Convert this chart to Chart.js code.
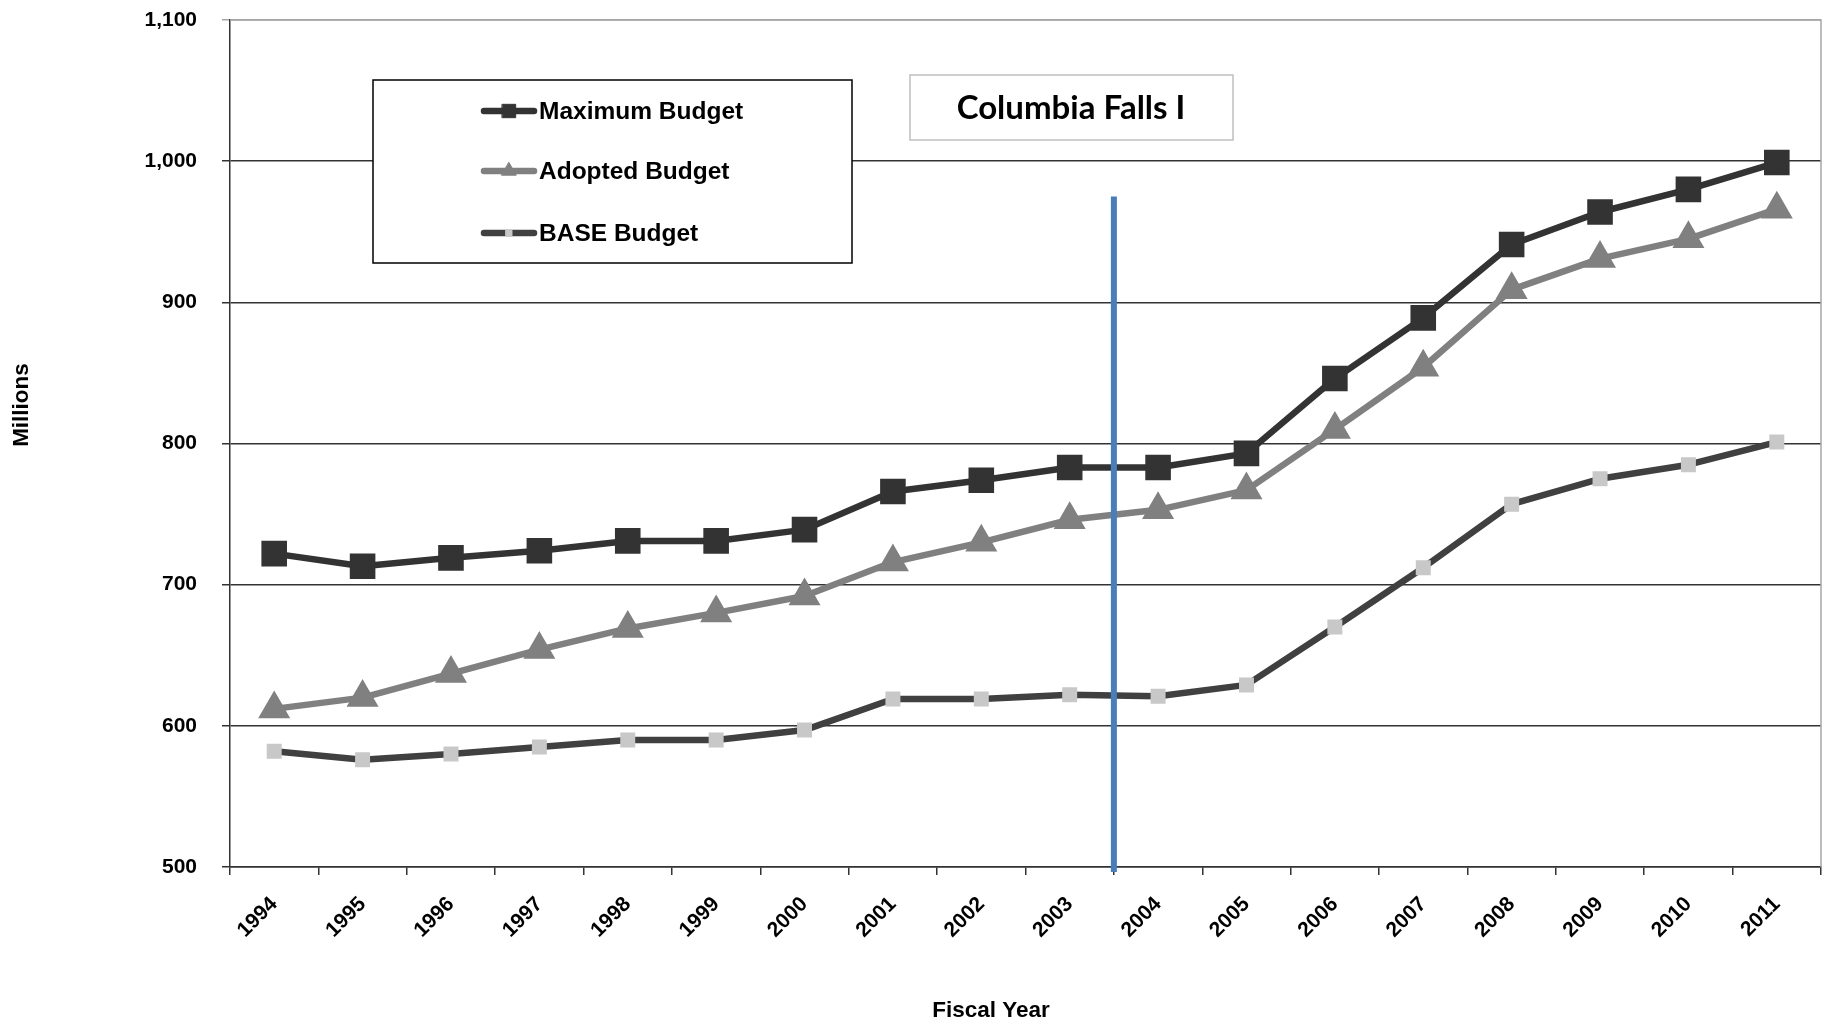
<!DOCTYPE html>
<html>
<head>
<meta charset="utf-8">
<script src="https://cdn.jsdelivr.net/npm/chart.js@4.4.1/dist/chart.umd.min.js"></script>
<style>
  body { margin: 0; background: #fff; overflow: hidden; }
  #wrap { width: 1827px; height: 1027px; position: relative; }
</style>
</head>
<body>
<div id="wrap"><canvas id="budgetChart"></canvas></div>
<script>
// data
const years = ["1994", "1995", "1996", "1997", "1998", "1999", "2000", "2001", "2002",
  "2003", "2004", "2005", "2006", "2007", "2008", "2009", "2010", "2011"];
const maximumBudget = [722, 713, 719, 724, 731, 731, 739, 766, 774, 783, 783, 793, 846, 889, 941, 964, 980, 999];
const adoptedBudget = [612, 620, 637, 654, 669, 680, 692, 716, 730, 746, 753, 767, 810, 854, 909, 931, 945, 966];
const baseBudget = [582, 576, 580, 585, 590, 590, 597, 619, 619, 622, 621, 629, 670, 712, 757, 775, 785, 801];
const yMin = 500, yMax = 1100, yStep = 100;
const dividerAfter = "2003"; // blue marker sits between 2003 and 2004
const dividerTop = 975;
const chartTitle = "Columbia Falls I";

const FONT = "'Liberation Sans', Arial, sans-serif";

// legend, title box, divider and axis titles
const overlay = {
  id: "overlay",
  afterDatasetsDraw(chart) {
    const { ctx, chartArea, scales: { x, y } } = chart;
    ctx.save();
    // plot border (top / right)
    ctx.strokeStyle = "#a6a6a6";
    ctx.lineWidth = 1.5;
    ctx.beginPath();
    ctx.moveTo(chartArea.left, chartArea.top);
    ctx.lineTo(chartArea.right, chartArea.top);
    ctx.lineTo(chartArea.right, chartArea.bottom);
    ctx.stroke();

    // blue divider
    const i = years.indexOf(dividerAfter);
    const dx = (x.getPixelForValue(i) + x.getPixelForValue(i + 1)) / 2;
    ctx.strokeStyle = "#4a7ebb";
    ctx.lineWidth = 6;
    ctx.beginPath();
    ctx.moveTo(dx, y.getPixelForValue(dividerTop));
    ctx.lineTo(dx, chartArea.bottom + 5);
    ctx.stroke();
    ctx.restore();
  },
  afterDraw(chart) {
    const { ctx } = chart;
    ctx.save();

    // legend box
    ctx.fillStyle = "#fff";
    ctx.fillRect(373, 80, 479, 183);
    ctx.strokeStyle = "#000";
    ctx.lineWidth = 1.5;
    ctx.strokeRect(373, 80, 479, 183);
    const rows = [111, 171, 233];
    chart.data.datasets.forEach((ds, k) => {
      const ly = rows[k];
      ctx.strokeStyle = ds.borderColor;
      ctx.lineWidth = ds.borderWidth;
      ctx.lineCap = "round";
      ctx.beginPath();
      ctx.moveTo(484, ly);
      ctx.lineTo(534, ly);
      ctx.stroke();
      ctx.fillStyle = ds.pointBackgroundColor;
      ctx.strokeStyle = ds.pointBorderColor;
      ctx.lineWidth = 1;
      Chart.helpers.drawPoint(ctx, { pointStyle: ds.pointStyle, radius: ds.pointRadius * 0.7, borderWidth: 1, rotation: 0 }, 509, ly);
      ctx.fillStyle = "#000";
      ctx.font = "bold 24.5px " + FONT;
      ctx.textBaseline = "middle";
      ctx.textAlign = "left";
      ctx.fillText(ds.label, 539, ly + 1);
    });

    // title box
    ctx.fillStyle = "#fff";
    ctx.fillRect(910, 75, 323, 65);
    ctx.strokeStyle = "#bfbfbf";
    ctx.lineWidth = 1.5;
    ctx.strokeRect(910, 75, 323, 65);
    ctx.fillStyle = "#000";
    ctx.font = "bold 33px Lato, 'Open Sans', sans-serif";
    ctx.textAlign = "center";
    ctx.textBaseline = "middle";
    ctx.fillText(chartTitle, 1071, 108);

    // axis titles
    ctx.font = "bold 22.5px " + FONT;
    ctx.fillText("Fiscal Year", 991, 1011);
    ctx.translate(22, 405);
    ctx.rotate(-Math.PI / 2);
    ctx.fillText("Millions", 0, 0);
    ctx.restore();
  }
};

new Chart(document.getElementById("budgetChart"), {
  type: "line",
  data: {
    labels: years,
    datasets: [
      {
        label: "Maximum Budget",
        data: maximumBudget,
        borderColor: "#333333",
        pointBackgroundColor: "#333333",
        pointBorderColor: "#333333",
        pointStyle: "rect",
        pointRadius: 13.5,
        borderWidth: 6.5,
      },
      {
        label: "Adopted Budget",
        data: adoptedBudget,
        borderColor: "#808080",
        pointBackgroundColor: "#808080",
        pointBorderColor: "#808080",
        pointStyle: "triangle",
        pointRadius: 12,
        borderWidth: 6.5,
      },
      {
        label: "BASE Budget",
        data: baseBudget,
        borderColor: "#404040",
        pointBackgroundColor: "#c8c8c8",
        pointBorderColor: "#c8c8c8",
        pointStyle: "rect",
        pointRadius: 6,
        borderWidth: 6.5,
      },
    ],
  },
  options: {
    responsive: true,
    maintainAspectRatio: false,
    animation: false,
    devicePixelRatio: 1,
    layout: { autoPadding: false, padding: { left: 0, right: 6, top: 20, bottom: 0 } },
    elements: { line: { tension: 0, borderJoinStyle: "round" }, point: { borderWidth: 1 } },
    plugins: { legend: { display: false }, tooltip: { enabled: false } },
    scales: {
      x: {
        offset: true,
        grid: { offset: true, drawOnChartArea: false, tickLength: 8, color: "#333", lineWidth: 1.5 },
        border: { color: "#333", width: 1.5 },
        ticks: {
          autoSkip: false, minRotation: 45, maxRotation: 45, padding: 17,
          color: "#000", font: { family: FONT, size: 21, weight: "bold" },
        },
        afterFit(scale) { scale.height = 160; scale.paddingRight = 0; scale.paddingLeft = 0; },
      },
      y: {
        min: yMin,
        max: yMax,
        ticks: {
          stepSize: yStep, padding: 25, color: "#000",
          font: { family: FONT, size: 21, weight: "bold" },
        },
        grid: {
          tickLength: 8,
          lineWidth: 1.5,
          color: (c) => (c.tick && c.tick.value === yMax ? "#a6a6a6" : "#333"),
        },
        border: { color: "#333", width: 1.5 },
        afterFit(scale) { scale.width = 230; scale.paddingTop = 0; scale.paddingBottom = 0; },
      },
    },
  },
  plugins: [overlay],
});
</script>
</body>
</html>
